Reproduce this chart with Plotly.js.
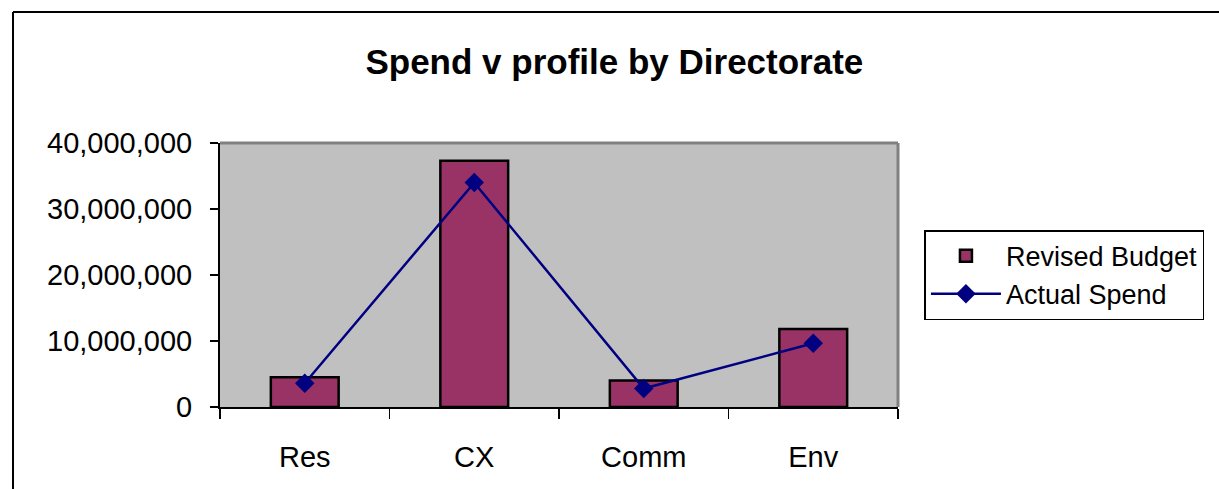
<!DOCTYPE html>
<html>
<head>
<meta charset="utf-8">
<script src="https://cdn.plot.ly/plotly-3.0.1.min.js"></script>
<style>
html,body{margin:0;padding:0;background:#fff;}
#chart{width:1219px;height:489px;}
</style>
</head>
<body>
<div id="chart"></div>
<script>
const categories = ["Res", "CX", "Comm", "Env"];
const revisedBudget = [4500000, 37300000, 4000000, 11800000];
const actualSpend = [3600000, 34000000, 2800000, 9650000];
const yTickVals = [0, 10000000, 20000000, 30000000, 40000000];
const yTickText = ["0", "10,000,000", "20,000,000", "30,000,000", "40,000,000"];

const FONT = "Liberation Sans, Arial, sans-serif";

const traces = [
  {
    type: "bar",
    name: "Revised Budget",
    x: categories,
    y: revisedBudget,
    marker: {color: "#993366", line: {color: "#000000", width: 2.5}},
    hoverinfo: "x+y"
  },
  {
    type: "scatter",
    mode: "lines+markers",
    name: "Actual Spend",
    x: categories,
    y: actualSpend,
    line: {color: "#000080", width: 2.5},
    marker: {symbol: "diamond", size: 15, color: "#000080"}
  }
];

const layout = {
  width: 1219,
  height: 489,
  margin: {l: 220, r: 321, t: 143, b: 82, pad: 0},
  paper_bgcolor: "#ffffff",
  plot_bgcolor: "#C0C0C0",
  font: {family: FONT, color: "#000000", size: 29},
  bargap: 0.6,
  title: {
    text: "<b>Spend v profile by Directorate</b>",
    font: {family: FONT, size: 35, color: "#000000"},
    x: 0.504, xref: "container", xanchor: "center",
    y: 0.873, yref: "container", yanchor: "middle"
  },
  xaxis: {
    type: "category",
    tickson: "boundaries",
    ticks: "outside",
    ticklen: 10,
    tickwidth: 1.5,
    tickcolor: "#000",
    showline: true,
    linecolor: "#000",
    linewidth: 2,
    showgrid: false,
    zeroline: false,
    ticklabelstandoff: 23,
    tickfont: {family: FONT, size: 29, color: "#000"},
    fixedrange: true
  },
  yaxis: {
    range: [0, 40000000],
    tickvals: yTickVals,
    ticktext: yTickText,
    ticks: "outside",
    ticklen: 8,
    tickwidth: 1.5,
    tickcolor: "#000",
    showline: true,
    linecolor: "#000",
    linewidth: 2,
    showgrid: false,
    zeroline: false,
    ticklabelstandoff: 12,
    tickfont: {family: FONT, size: 29, color: "#000"},
    fixedrange: true
  },
  legend: {
    x: 1.039, xanchor: "left",
    y: 0.67, yanchor: "top",
    bgcolor: "#ffffff",
    bordercolor: "#000000",
    borderwidth: 1.5,
    font: {family: FONT, size: 27, color: "#000"},
    itemwidth: 70,
    traceorder: "normal"
  },
  shapes: [
    {type: "line", xref: "paper", yref: "paper", x0: 0, x1: 1, y0: 1, y1: 1, line: {color: "#808080", width: 3}, layer: "below"},
    {type: "line", xref: "paper", yref: "paper", x0: 1, x1: 1, y0: 0, y1: 1, line: {color: "#808080", width: 3}, layer: "below"},
    {type: "line", xref: "paper", yref: "paper", x0: -0.3053, x1: -0.3053, y0: -1, y1: 1.496, line: {color: "#000", width: 2}},
    {type: "line", xref: "paper", yref: "paper", x0: -0.3053, x1: 2, y0: 1.496, y1: 1.496, line: {color: "#000", width: 2}}
  ],
  showlegend: true
};

Plotly.newPlot("chart", traces, layout, {displayModeBar: false, staticPlot: true});
</script>
</body>
</html>
